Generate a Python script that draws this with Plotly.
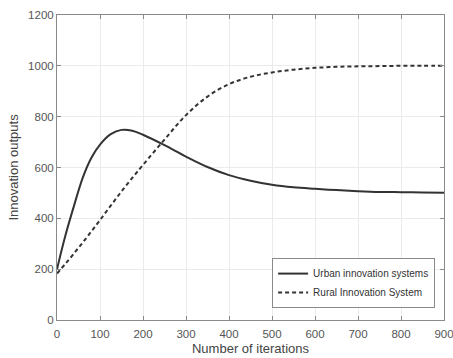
import plotly.graph_objects as go

iterations = [0, 20, 40, 60, 80, 100, 125, 150, 175, 200, 250, 300, 350, 400, 450, 500,
              550, 600, 650, 700, 750, 800, 850, 900]
urban = [200, 335, 452, 560, 638, 690, 731, 748, 745, 729, 688, 643, 602, 570, 548, 532,
         522, 516, 511, 507, 504, 503, 502, 501]
rural = [183, 222, 263, 305, 349, 393, 450, 506, 559, 610, 710, 806, 879, 928, 957, 974,
         985, 992, 996, 998, 999, 1000, 1000, 1000]

x_ticks = [0, 100, 200, 300, 400, 500, 600, 700, 800, 900]
y_ticks = [0, 200, 400, 600, 800, 1000, 1200]

font = "Liberation Sans, Arial, sans-serif"
line_color = "#333333"

fig = go.Figure()
fig.add_trace(go.Scatter(x=iterations, y=urban, mode="lines",
                         name="Urban innovation systems",
                         line=dict(color=line_color, width=2, shape="spline", smoothing=1.0)))
fig.add_trace(go.Scatter(x=iterations, y=rural, mode="lines",
                         name="Rural Innovation System",
                         line=dict(color=line_color, width=2, dash="4px,3px", shape="spline")))

axis_common = dict(showline=True, linecolor="#8a8a8a", linewidth=1, mirror="ticks",
                   ticks="inside", ticklen=4, tickcolor="#8a8a8a",
                   showgrid=True, gridcolor="#ebebeb", gridwidth=1, zeroline=False,
                   ticklabeloverflow="allow", automargin=False,
                   tickfont=dict(family=font, size=11.5, color="#555555"))

fig.update_layout(
    width=453, height=358,
    margin=dict(l=57, r=9, t=15, b=38),
    paper_bgcolor="white", plot_bgcolor="white",
    font=dict(family=font, color="#444444"),
    xaxis=dict(range=[0, 900], tickvals=x_ticks, ticklabelstandoff=3, **axis_common,
               title=dict(text="Number of iterations", font=dict(family=font, size=13, color="#444444"), standoff=5)),
    yaxis=dict(range=[0, 1200], tickvals=y_ticks, **axis_common,
               title=dict(text="Innovation outputs", font=dict(family=font, size=13, color="#444444"), standoff=6)),
    legend=dict(x=0.977, y=0.203, xanchor="right", yanchor="top",
                bgcolor="white", bordercolor="#8a8a8a", borderwidth=1,
                font=dict(family=font, size=10, color="#333333"),
                tracegroupgap=0, itemwidth=30),
    showlegend=True,
)

fig.write_html("out.html")
